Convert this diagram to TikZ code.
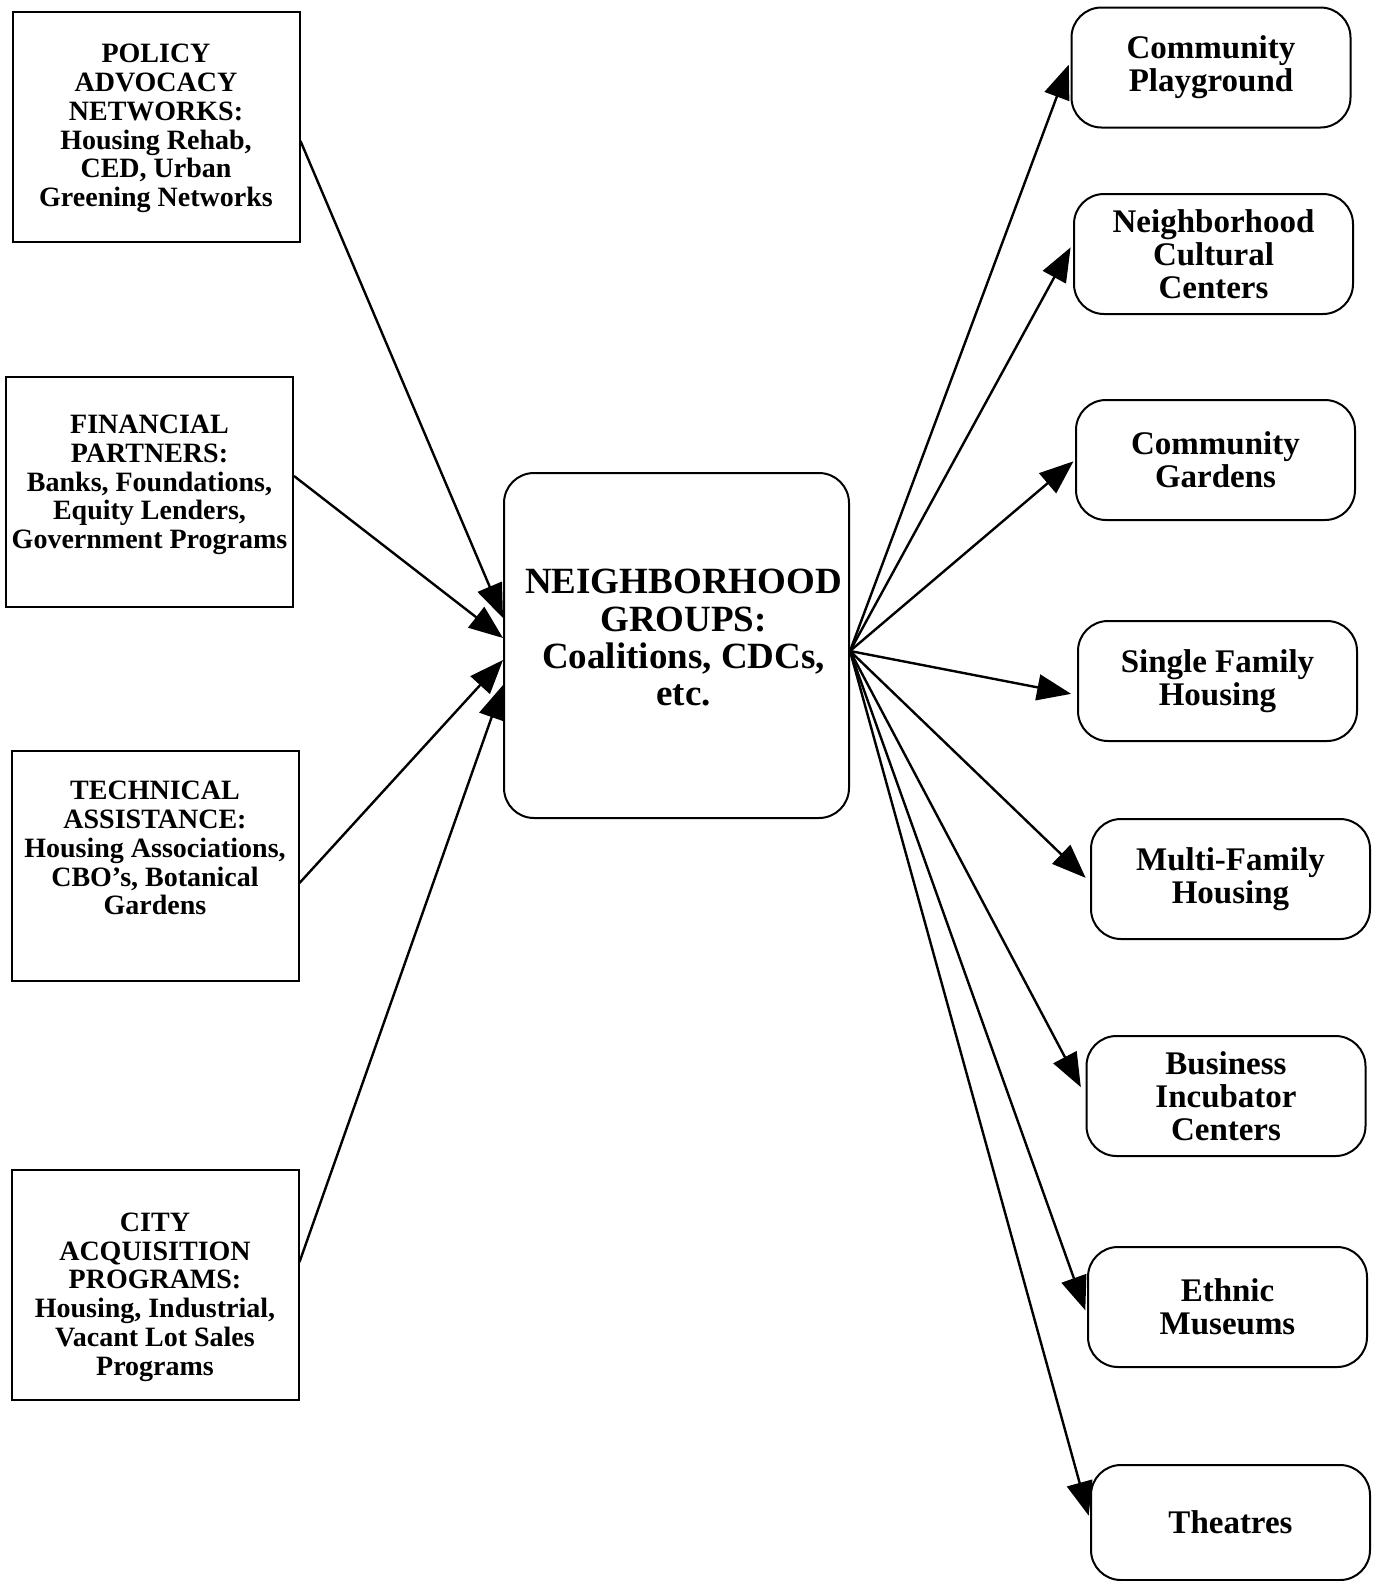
\documentclass[tikz,border=0pt]{standalone}
\usepackage{fontspec}
\setmainfont{Liberation Serif}
\usetikzlibrary{arrows.meta}
\begin{document}
\begin{tikzpicture}[x=0.5pt,y=-0.5pt,
  srcbox/.style={draw,line width=1pt,inner sep=0pt,minimum width=143.5pt,minimum height=115pt},
  srctext/.style={inner sep=0pt,align=center,font=\fontsize{14}{14.4}\selectfont\bfseries},
  hubbox/.style={draw,line width=1pt,rounded corners=15pt,inner sep=0pt,minimum width=172.5pt,
    minimum height=172.5pt},
  hubtext/.style={inner sep=0pt,align=center,font=\fontsize{18.5}{18.7}\selectfont\bfseries},
  outbox/.style={draw,line width=1pt,rounded corners=15pt,inner sep=0pt,minimum width=139.5pt,
    minimum height=60pt,align=center,font=\fontsize{16.5}{16.6}\selectfont\bfseries},
  link/.style={line width=1.2pt,-{Triangle[length=17pt,width=13pt]}}]
\useasboundingbox (0,0) rectangle (1378,1581);

% sources on the left
\node[srcbox,label={[srctext,yshift=-0.8pt]center:{POLICY\\ADVOCACY\\NETWORKS:\\Housing Rehab,\\CED, Urban\\Greening Networks}}] (policy) at (156,127) {};
\node[srcbox,label={[srctext,yshift=3.3pt]center:{FINANCIAL\\PARTNERS:\\Banks, Foundations,\\Equity Lenders,\\Government Programs}}] (finance) at (149.5,491.5) {};
\node[srcbox,label={[srctext,yshift=8.7pt]center:{TECHNICAL\\ASSISTANCE:\\Housing Associations,\\CBO's, Botanical\\Gardens}}] (tech) at (155,865.5) {};
\node[srcbox,label={[srctext,yshift=-6.3pt]center:{CITY\\ACQUISITION\\PROGRAMS:\\Housing, Industrial,\\Vacant Lot Sales\\Programs}}] (city) at (155,1284.5) {};

% central hub
\node[hubbox,label={[hubtext,xshift=3.5pt,yshift=3.8pt]center:{NEIGHBORHOOD\\GROUPS:\\Coalitions, CDCs,\\etc.}}] (hub) at (676.5,645.5) {};

% outcomes on the right
\node[outbox] (play) at (1211,67.5) {Community\\Playground};
\node[outbox] (cult) at (1213.5,254) {Neighborhood\\Cultural\\Centers};
\node[outbox] (gard) at (1215.5,460) {Community\\Gardens};
\node[outbox] (single) at (1217.5,681) {Single Family\\Housing};
\node[outbox] (multi) at (1230.5,879) {Multi-Family\\Housing};
\node[outbox] (biz) at (1226,1096) {Business\\Incubator\\Centers};
\node[outbox] (museum) at (1227.5,1307) {Ethnic\\Museums};
\node[outbox,minimum height=57.5pt] (theatre) at (1230.5,1522.5) {Theatres};

% inputs into the hub
\draw[link] ([yshift=-7pt]policy.east) -- ([yshift=13.75pt]hub.west);
\draw[link] ([yshift=7.75pt]finance.east) -- ([yshift=3.75pt]hub.west);
\draw[link] ([yshift=-8.75pt]tech.east) -- ([yshift=-7.25pt]hub.west);
\draw[link] ([yshift=11.25pt]city.east) -- ([yshift=-19.75pt]hub.west);

% outputs from the hub
\coordinate (hubout) at ([yshift=-2.75pt]hub.east);
\draw[link,shorten >=2.5pt] (hubout) -- ([yshift=3.75pt]play.west);
\draw[link,shorten >=2.5pt] (hubout) -- ([yshift=5.5pt]cult.west);
\draw[link,shorten >=1pt] (hubout) -- (gard.west);
\draw[link,shorten >=3pt] (hubout) -- ([yshift=-7pt]single.west);
\draw[link,shorten >=3pt] (hubout) -- ([yshift=-1.5pt]multi.west);
\draw[link,shorten >=5pt] (hubout) -- (biz.west);
\draw[link,shorten >=2.5pt] (hubout) -- ([yshift=-4pt]museum.west);
\draw[link,shorten >=2.5pt] (hubout) -- ([yshift=1pt]theatre.west);
\end{tikzpicture}
\end{document}
